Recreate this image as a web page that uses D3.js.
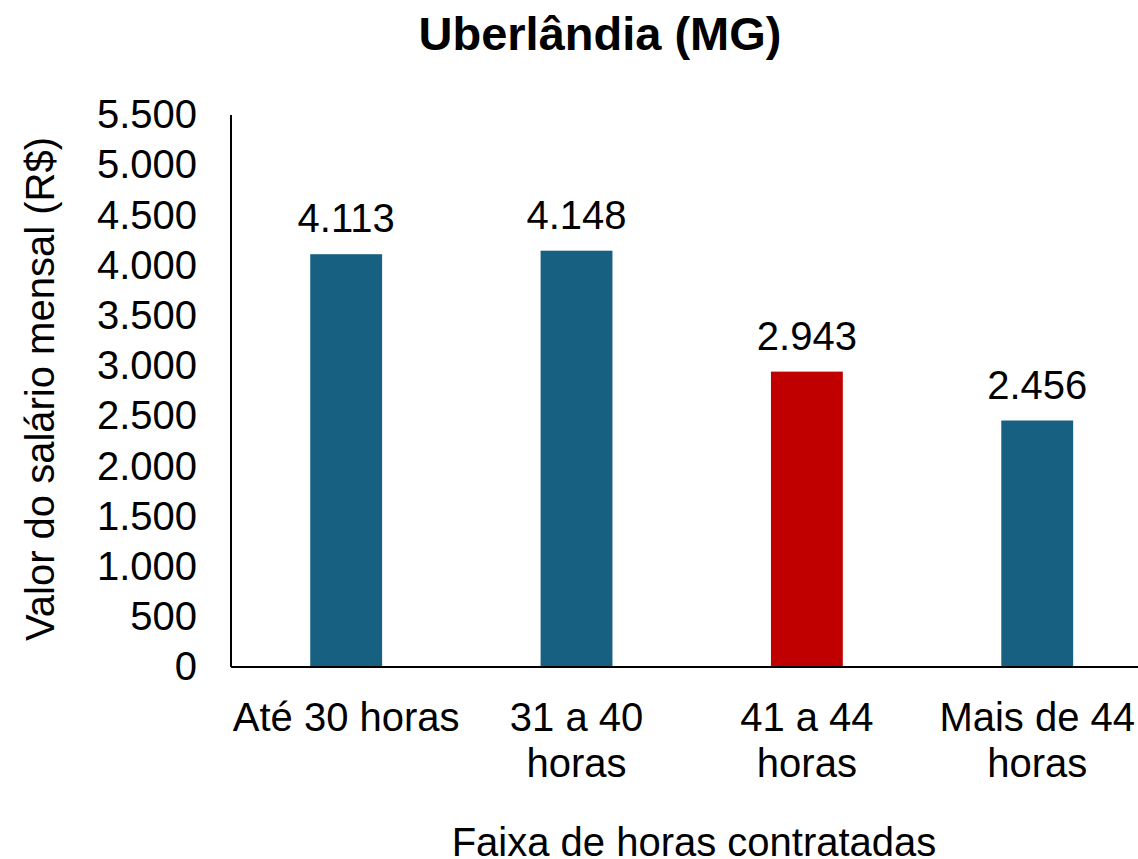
<!DOCTYPE html>
<html><head><meta charset="utf-8">
<script src="https://cdn.jsdelivr.net/npm/d3@7"></script>
<style>body{margin:0;background:#fff;}svg{display:block;font-family:"Liberation Sans",Arial,sans-serif;}</style>
</head><body>
<svg id="chart" width="1138" height="859"></svg>
<script>
const categories = [["Até 30 horas"], ["31 a 40", "horas"], ["41 a 44", "horas"], ["Mais de 44", "horas"]];
const values = [4113, 4148, 2943, 2456];
const barColors = ["#186082", "#186082", "#c00000", "#186082"];
const yTicks = [0, 500, 1000, 1500, 2000, 2500, 3000, 3500, 4000, 4500, 5000, 5500];
const title = "Uberlândia (MG)";
const yTitle = "Valor do salário mensal (R$)";
const xTitle = "Faixa de horas contratadas";

(function () {
const svg = d3.select("#chart");
const pLeft = 231, pRight = 1152.4, pTop = 115, pBottom = 667;
const fs = 40;
const fmt = v => d3.format(",")(v).replace(/,/g, ".");

const x = d3.scaleBand().domain(d3.range(values.length)).range([pLeft, pRight]).paddingInner(0.688).paddingOuter(0.344);
const y = d3.scaleLinear().domain([0, 5500]).range([pBottom, pTop]);

svg.append("text").attr("x", 600).attr("y", 50).attr("text-anchor", "middle")
  .attr("font-size", 47).attr("font-weight", "bold").text(title);

svg.selectAll("rect.bar").data(values).join("rect").attr("class", "bar")
  .attr("x", (d, i) => x(i)).attr("width", x.bandwidth())
  .attr("y", d => y(d)).attr("height", d => y(0) - y(d))
  .attr("fill", (d, i) => barColors[i]);

svg.selectAll("text.val").data(values).join("text").attr("class", "val")
  .attr("x", (d, i) => x(i) + x.bandwidth() / 2).attr("y", d => y(d) - 22)
  .attr("text-anchor", "middle").attr("font-size", fs).text(d => fmt(d));

const yAxis = d3.axisLeft(y).tickValues(yTicks).tickSize(0).tickPadding(34).tickFormat(fmt);
const gy = svg.append("g").attr("transform", `translate(${pLeft},0)`).call(yAxis);
gy.select(".domain").attr("stroke", "#000").attr("stroke-width", 2).attr("d", `M0,${pTop}V${pBottom}`);
gy.selectAll("text").attr("font-size", fs).attr("font-family", "Liberation Sans, Arial, sans-serif").attr("fill", "#000");

const xAxis = d3.axisBottom(x).tickSize(0).tickFormat(() => "");
const gx = svg.append("g").attr("transform", `translate(0,${pBottom})`).call(xAxis);
gx.select(".domain").attr("stroke", "#000").attr("stroke-width", 2).attr("d", `M${pLeft},0H1140`);

svg.selectAll("text.xl").data(categories).join("text").attr("class", "xl")
  .attr("x", (d, i) => x(i) + x.bandwidth() / 2).attr("y", 731)
  .attr("text-anchor", "middle").attr("font-size", fs)
  .each(function (d) {
    const sx = d3.select(this).attr("x");
    d3.select(this).selectAll("tspan").data(d).join("tspan")
      .attr("x", sx).attr("dy", (t, j) => j === 0 ? 0 : 46).text(t => t);
  });

svg.append("text").attr("transform", `translate(54,389) rotate(-90)`).attr("text-anchor", "middle")
  .attr("font-size", fs).text(yTitle);

svg.append("text").attr("x", 694).attr("y", 856).attr("text-anchor", "middle")
  .attr("font-size", fs).text(xTitle);
})();
</script>
</body></html>
